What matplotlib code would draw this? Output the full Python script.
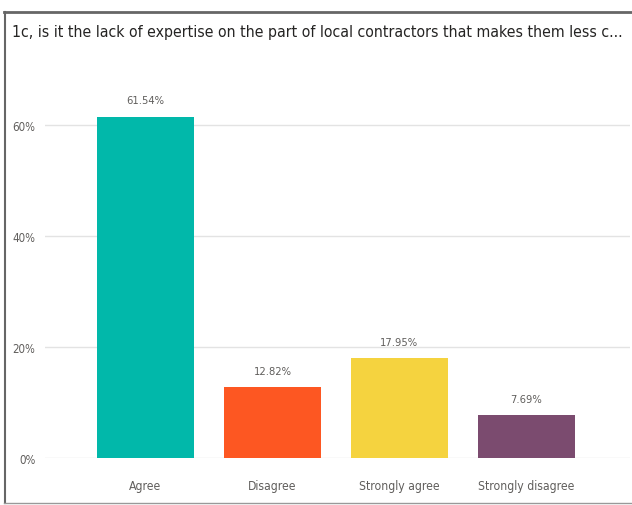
import matplotlib.pyplot as plt
from matplotlib.lines import Line2D
from matplotlib.ticker import FuncFormatter

# data
categories = ["Agree", "Disagree", "Strongly agree", "Strongly disagree"]
shares = [0.6154, 0.1282, 0.1795, 0.0769]
bar_colors = ["#01B8AA", "#FD5722", "#F5D33F", "#7B4B6F"]
title = "1c, is it the lack of expertise on the part of local contractors that makes them less c..."

# the Power BI text is condensed, use the condensed DejaVu face
plt.rcParams["font.family"] = ["DejaVu Sans"]
plt.rcParams["font.stretch"] = "condensed"

W, H = 632, 506
fig = plt.figure(figsize=(W / 100, H / 100), dpi=100)

# axes placed in pixel coords: x 45..630, y 85..459 (from top)
ax = fig.add_axes([45 / W, 1 - 459 / H, (630 - 45) / W, (459 - 85) / H])

x = range(len(categories))
ax.bar(x, shares, width=0.764, color=bar_colors, zorder=3)

labels = []
for xi, v in zip(x, shares):
    t = ax.text(xi, v + 0.02, f"{v * 100:.2f}%", ha="center", va="bottom",
                fontsize=9, color="#605E5C")
    labels.append(t)

ax.set_xlim(-0.79, 3.815)
ax.set_ylim(0, 0.674)
ax.set_yticks([0, 0.2, 0.4, 0.6])
ax.yaxis.set_major_formatter(FuncFormatter(lambda v, p: f"{v * 100:.0f}%"))
ax.set_xticks(list(x))
ax.set_xticklabels(categories)

ax.grid(axis="y", color="#E3E3E3", linewidth=1, zorder=0)
for s in ax.spines.values():
    s.set_visible(False)
ax.tick_params(axis="both", length=0, labelsize=10, colors="#605E5C")
ax.tick_params(axis="x", pad=15)
ax.tick_params(axis="y", pad=7)

# title
ttl = fig.text(12 / W, 1 - 37 / H, title, ha="left", va="baseline",
               fontsize=13, color="#252423")

# fit font sizes to the widths measured on the reference
fig.canvas.draw()
r = fig.canvas.get_renderer()

ttl.set_fontsize(ttl.get_fontsize() * 608 / ttl.get_window_extent(r).width)
xt = ax.get_xticklabels()
w = xt[3].get_window_extent(r).width
for t in xt:
    t.set_fontsize(t.get_fontsize() * 96 / w)
yt = ax.get_yticklabels()
w = yt[3].get_window_extent(r).width
for t in yt:
    t.set_fontsize(t.get_fontsize() * 23 / w)
w = labels[0].get_window_extent(r).width
for t in labels:
    t.set_fontsize(t.get_fontsize() * 38 / w)

# visual frame
fig.add_artist(Line2D([4 / W, 1], [1 - 13 / H, 1 - 13 / H], color="#666666", linewidth=2))
fig.add_artist(Line2D([4.5 / W, 4.5 / W], [1 - 13 / H, 1 - 504 / H], color="#666666", linewidth=1.5))
fig.add_artist(Line2D([4 / W, 1], [1 - 504 / H, 1 - 504 / H], color="#999999", linewidth=1))

fig.savefig("out.png", dpi=100)
